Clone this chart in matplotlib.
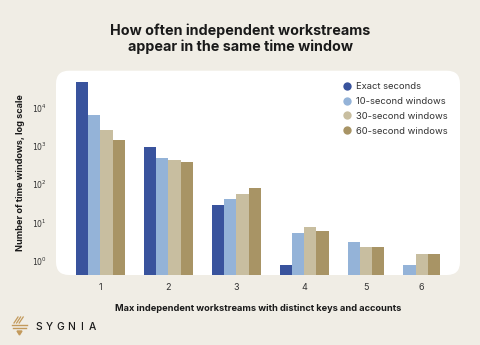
# How often independent workstreams appear in the same time window

import matplotlib.pyplot as plt
from matplotlib.patches import FancyBboxPatch, Polygon
from matplotlib.lines import Line2D
from matplotlib.ticker import NullLocator
from matplotlib.transforms import ScaledTranslation

plt.rcParams["font.family"] = ["Inter", "DejaVu Sans"]

groups = ["1", "2", "3", "4", "5", "6"]
series_names = ["Exact seconds", "10-second windows", "30-second windows", "60-second windows"]
exact = [65000, 1320, 38, 1, 0, 0]
ten_sec = [9000, 680, 56, 7, 4, 1]
thirty_sec = [3640, 590, 74, 10, 3, 2]
sixty_sec = [1950, 525, 106, 8, 3, 2]
colors = ["#39539d", "#94b3d8", "#c8bea0", "#a89465"]

bg = "#f0ede5"
text_dark = "#1a1a1a"
text_grey = "#333333"

fig = plt.figure(figsize=(4.8, 3.45), dpi=100, facecolor=bg)

# white rounded panel behind the plot
panel = FancyBboxPatch((0.56, 0.70), 4.04, 2.043,
                       boxstyle="round,pad=0,rounding_size=0.13",
                       transform=fig.dpi_scale_trans,
                       facecolor="white", edgecolor="none", zorder=0)
fig.add_artist(panel)

ax = fig.add_axes([56 / 480, 70 / 345, 404 / 480, 204.3 / 345])
ax.set_facecolor("none")

# bars of a group are packed, empty bars are dropped
all_series = [exact, ten_sec, thirty_sec, sixty_sec]
gap = 1.55
pos = 0.0
centers = []
for g in range(len(groups)):
    present = [k for k in range(len(all_series)) if all_series[k][g] > 0]
    for i, k in enumerate(present):
        ax.bar(pos + i + 0.5, all_series[k][g], width=1.0, color=colors[k],
               linewidth=0, zorder=2)
    centers.append(pos + len(present) / 2)
    pos += len(present) + gap
span = pos - gap

ax.set_yscale("log")
ax.set_ylim(0.556, 132000)
ax.set_xlim(-1.63, span + 1.63)
ax.yaxis.set_minor_locator(NullLocator())
ax.set_yticks([1, 10, 100, 1000, 10000])
ax.set_yticklabels([r"$10^{0}$", r"$10^{1}$", r"$10^{2}$", r"$10^{3}$", r"$10^{4}$"])
ax.set_xticks(centers)
ax.set_xticklabels(groups)
ax.tick_params(axis="y", length=0, pad=6.5, labelsize=5.6, labelcolor=text_grey)
ax.tick_params(axis="x", length=0, pad=5.5, labelsize=6.5, labelcolor=text_grey)
for lab in ax.get_yticklabels():
    lab.set_transform(lab.get_transform() + ScaledTranslation(0, 0.05, fig.dpi_scale_trans))
for s in ax.spines.values():
    s.set_visible(False)

ax.set_ylabel("Number of time windows, log scale", fontsize=6.6, fontweight="bold",
              color=text_dark, labelpad=5)
ax.set_xlabel("Max independent workstreams with distinct keys and accounts",
              fontsize=6.65, fontweight="bold", color=text_dark, labelpad=9)

handles = [Line2D([], [], marker="o", linestyle="none", markersize=6,
                  markerfacecolor=c, markeredgewidth=0) for c in colors]
ax.legend(handles, series_names, loc="upper left",
          bbox_to_anchor=(343 / 480, 1 - 82 / 345), bbox_transform=fig.transFigure,
          frameon=False, fontsize=6.8, handlelength=0.85, handletextpad=0.5,
          labelspacing=0.62, borderpad=0, borderaxespad=0, labelcolor=text_grey)

fig.text(0.5, 1 - 39 / 345, "How often independent workstreams\nappear in the same time window",
         ha="center", va="center", fontsize=10.3, fontweight="bold", color=text_dark,
         linespacing=1.15)

# logo
gold = "#c39a5c"
for i in range(3):
    x0 = 14 + i * 2.6
    fig.add_artist(Line2D([x0, x0 + 4], [345 - 323, 345 - 317], color=gold, lw=0.9,
                          transform=None))
fig.add_artist(Line2D([12, 27], [345 - 325, 345 - 325], color=gold, lw=1.0, transform=None))
fig.add_artist(Line2D([13, 26], [345 - 328, 345 - 328], color=gold, lw=1.0, transform=None))
fig.add_artist(Polygon([[17, 345 - 331], [22, 345 - 331], [19.5, 345 - 335]],
                       closed=True, color=gold, transform=None))
for i, ch in enumerate("SYGNIA"):
    fig.text((38.5 + i * 10.8) / 480, 1 - 326.5 / 345, ch, ha="center", va="center",
             fontsize=7.4, fontweight="medium", color=text_dark)

fig.savefig("out.png", dpi=100, facecolor=bg)
